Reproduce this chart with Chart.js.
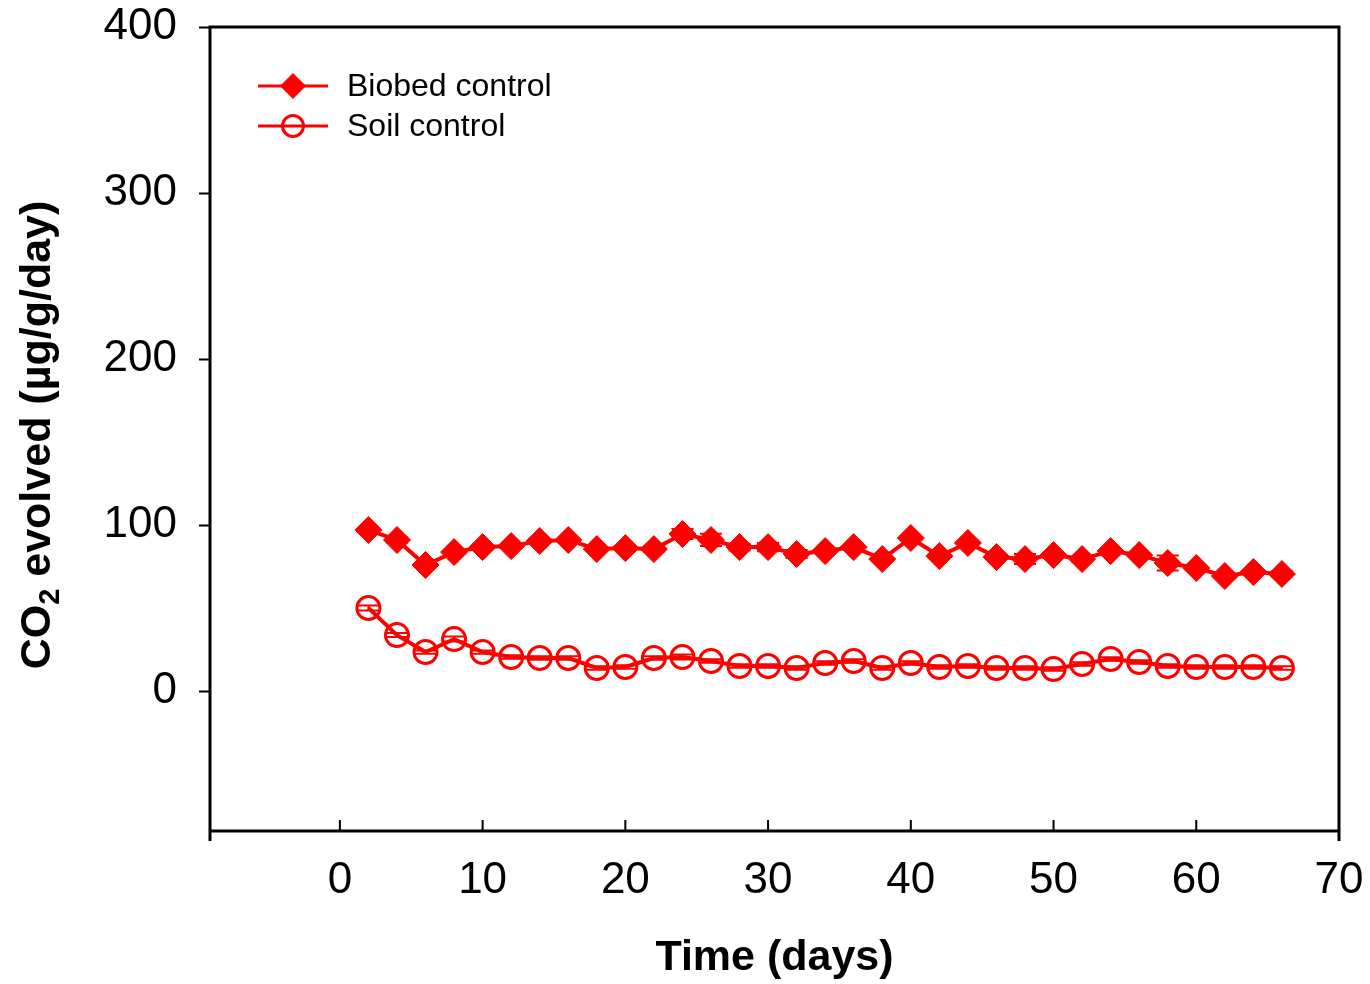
<!DOCTYPE html>
<html><head><meta charset="utf-8">
<script src="https://cdn.jsdelivr.net/npm/chart.js@4.4.0/dist/chart.umd.min.js"></script>
<style>html,body{margin:0;padding:0;background:#fff}#wrap{width:1370px;height:984px}</style>
</head><body><div id="wrap"><canvas id="c" width="1370" height="984"></canvas></div>
<script>
const days = [2,4,6,8,10,12,14,16,18,20,22,24,26,28,30,32,34,36,38,40,42,44,46,48,50,52,54,56,58,60,62,64,66];
const biobed = [97.0,91.0,75.9,83.7,86.7,87.3,90.4,91.0,85.5,86.1,85.5,94.6,91.0,86.7,86.7,82.5,84.3,86.7,79.5,92.2,81.3,89.2,80.7,79.5,81.9,79.5,84.3,81.9,77.1,74.1,69.3,71.7,70.5];
const biobedErr = [1,1.5,1,1,1,1,1,1,1,1,1.5,3,3.7,2,2.5,2.4,1,1,1,1,1,1,1,3,1,1,1,1,4.5,1,1,1,1.5];
const soil = [50.0,33.7,23.5,31.3,23.5,20.5,19.9,19.9,13.9,14.5,19.9,20.5,18.1,15.1,15.1,13.9,16.9,18.1,13.9,16.9,14.5,15.1,13.9,13.9,13.3,16.3,19.3,17.5,15.1,14.5,14.5,14.5,13.9];
const soilErr = [1.5,1.2,1,1.5,1,1,1,1,1,1,1,1.5,1,1,1,1,1,1,1,1,1,1,1,1,1,1,1,1,1,1,1,1,1];
const seriesNames = ['Biobed control', 'Soil control'];
const xTicks = [0,10,20,30,40,50,60,70];
const yTicks = [0,100,200,300,400];
const xTitle = 'Time (days)';
const yTitleParts = ['CO', '2', ' evolved (µg/g/day)'];

const FONT = '"Liberation Sans", Arial, sans-serif';
const RED = '#ff0000';

const frame = {
  id: 'frame',
  afterDraw(chart) {
    const {ctx, chartArea: a, scales: {x, y}} = chart;
    ctx.save();
    ctx.strokeStyle = '#000';
    ctx.lineWidth = 3;
    ctx.beginPath();
    ctx.moveTo(a.left, a.bottom + 10); ctx.lineTo(a.left, a.top); ctx.lineTo(a.right, a.top); ctx.lineTo(a.right, a.bottom + 10);
    ctx.moveTo(a.left, a.bottom); ctx.lineTo(a.right, a.bottom);
    ctx.stroke();
    ctx.lineWidth = 2;
    ctx.beginPath();
    xTicks.forEach(v => {
      const px = x.getPixelForValue(v);
      if (px > a.left + 3 && px < a.right - 3) { ctx.moveTo(px, a.bottom); ctx.lineTo(px, a.bottom - 11); }
    });
    ctx.stroke();

    // x title
    ctx.fillStyle = '#000';
    ctx.font = 'bold 43px ' + FONT;
    ctx.textAlign = 'center';
    ctx.textBaseline = 'alphabetic';
    ctx.fillText(xTitle, (a.left + a.right) / 2, 970);

    // y title with subscript
    const fMain = 'bold 43px ' + FONT, fSub = 'bold 29px ' + FONT;
    ctx.font = fMain; const w0 = ctx.measureText(yTitleParts[0]).width;
    ctx.font = fSub; const w1 = ctx.measureText(yTitleParts[1]).width;
    ctx.font = fMain; const w2 = ctx.measureText(yTitleParts[2]).width;
    const total = w0 + w1 + w2;
    ctx.translate(50, (a.top + a.bottom) / 2 + 6);
    ctx.rotate(-Math.PI / 2);
    ctx.textAlign = 'left';
    let sx = -total / 2;
    ctx.font = fMain; ctx.fillText(yTitleParts[0], sx, 0); sx += w0;
    ctx.font = fSub; ctx.fillText(yTitleParts[1], sx, 9); sx += w1;
    ctx.font = fMain; ctx.fillText(yTitleParts[2], sx, 0);
    ctx.restore();

    // legend
    ctx.save();
    chart.data.datasets.forEach((ds, i) => {
      const ly = a.top + 59 + i * 40;
      const lx = a.left + 48;
      ctx.strokeStyle = RED; ctx.lineWidth = 3;
      ctx.beginPath(); ctx.moveTo(lx, ly); ctx.lineTo(lx + 70, ly); ctx.stroke();
      ctx.fillStyle = ds.pointBackgroundColor; ctx.strokeStyle = ds.pointBorderColor; ctx.lineWidth = ds.pointBorderWidth;
      Chart.helpers.drawPoint(ctx, {pointStyle: ds.pointStyle, radius: ds.pointRadius - 1, rotation: 0, borderWidth: ds.pointBorderWidth}, lx + 35, ly);
      ctx.fillStyle = '#000';
      ctx.font = '32px ' + FONT; ctx.textAlign = 'left'; ctx.textBaseline = 'middle';
      ctx.fillText(ds.label, lx + 89, ly + 1);
    });
    ctx.restore();
  }
};

const errBars = {
  id: 'errBars',
  afterDatasetsDraw(chart) {
    const {ctx, scales: {x, y}} = chart;
    ctx.save();
    ctx.strokeStyle = RED; ctx.lineWidth = 2;
    chart.data.datasets.forEach(ds => {
      ds.errors.forEach((e, i) => {
        const px = x.getPixelForValue(days[i]);
        const y1 = y.getPixelForValue(ds.data[i].y + e), y2 = y.getPixelForValue(ds.data[i].y - e);
        ctx.beginPath();
        ctx.moveTo(px, y1); ctx.lineTo(px, y2);
        ctx.moveTo(px - 11, y1); ctx.lineTo(px + 11, y1);
        ctx.moveTo(px - 11, y2); ctx.lineTo(px + 11, y2);
        ctx.stroke();
      });
    });
    ctx.restore();
  }
};

new Chart(document.getElementById('c'), {
  type: 'line',
  data: {
    datasets: [
      {label: seriesNames[0], data: days.map((d, i) => ({x: d, y: biobed[i]})), errors: biobedErr,
       borderColor: RED, borderWidth: 4, tension: 0, pointStyle: 'rectRot', pointRadius: 13.5,
       pointBackgroundColor: RED, pointBorderColor: RED, pointBorderWidth: 1},
      {label: seriesNames[1], data: days.map((d, i) => ({x: d, y: soil[i]})), errors: soilErr,
       borderColor: RED, borderWidth: 4, tension: 0, pointStyle: 'circle', pointRadius: 11.5,
       pointBackgroundColor: 'rgba(0,0,0,0)', pointBorderColor: RED, pointBorderWidth: 3}
    ]
  },
  options: {
    responsive: false, animation: false, devicePixelRatio: 1,
    layout: {padding: {top: 27, right: 31, left: 0, bottom: 0}},
    plugins: {legend: {display: false}, tooltip: {enabled: false}},
    scales: {
      x: {type: 'linear', min: -9.1, max: 70,
          afterBuildTicks: s => { s.ticks = xTicks.map(v => ({value: v})); },
          afterFit: s => { s.height = 153; s.paddingLeft = 0; s.paddingRight = 0; },
          grid: {display: false}, border: {display: false},
          ticks: {color: '#000', font: {family: FONT, size: 44}, padding: 15, maxRotation: 0, autoSkip: false}},
      y: {type: 'linear', min: -84.3, max: 400,
          afterBuildTicks: s => { s.ticks = yTicks.map(v => ({value: v})); },
          afterFit: s => { s.width = 210; s.paddingTop = 0; s.paddingBottom = 0; },
          grid: {display: true, drawOnChartArea: false, drawTicks: true, tickLength: 11, tickWidth: 2, tickColor: '#000'},
          border: {display: false},
          ticks: {color: '#000', font: {family: FONT, size: 44}, padding: 22}}
    }
  },
  plugins: [errBars, frame]
});
</script></body></html>
